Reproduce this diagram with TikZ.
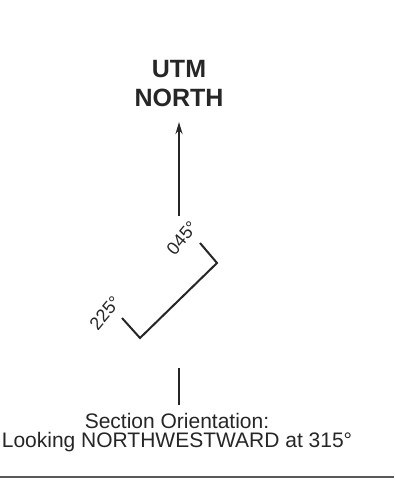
\documentclass[tikz,border=0pt]{standalone}
\usepackage{fontspec}
\setmainfont{Liberation Sans}
\usetikzlibrary{arrows.meta}
\begin{document}
\begin{tikzpicture}[x=1pt,y=-1pt,
  ink/.style={draw=black!85, line width=2pt},
  lbl/.style={text=black!85, inner sep=0pt},
  title/.style={lbl, font=\bfseries\fontsize{25}{29}\selectfont, align=center},
  angle/.style={lbl, font=\fontsize{18}{18}\selectfont, rotate=50},
  caption/.style={lbl, font=\fontsize{21}{19}\selectfont, align=center}]
\useasboundingbox (0,0) rectangle (394,486);
\fill[white] (0,0) rectangle (394,486);
\node[title, anchor=base] (utm) at (179,107) {UTM\\NORTH};
\coordinate (arrowtail) at (179,216);
\coordinate (arrowtip) at (179,122);
\draw[ink, -{Stealth[length=12pt,width=7pt]}] (arrowtail) -- (arrowtip);
\coordinate (b1) at (200,243);
\coordinate (b2) at (217,263);
\coordinate (b3) at (140,338);
\coordinate (b4) at (122,318);
\draw[ink, line join=miter] (b1) -- (b2) -- (b3) -- (b4);
\node[angle] (l045) at (182,238) {045°};
\node[angle] (l225) at (105,313) {225°};
\coordinate (ticktop) at (179,368);
\coordinate (tickbot) at (179,405);
\draw[ink] (ticktop) -- (tickbot);
\node[caption, anchor=base] (cap) at (177,447) {Section Orientation:\\Looking NORTHWESTWARD at 315°};
\coordinate (ruleL) at (0,477);
\coordinate (ruleR) at (394,477);
\draw[draw=black!65, line width=2pt] (ruleL) -- (ruleR);
\end{tikzpicture}
\end{document}
